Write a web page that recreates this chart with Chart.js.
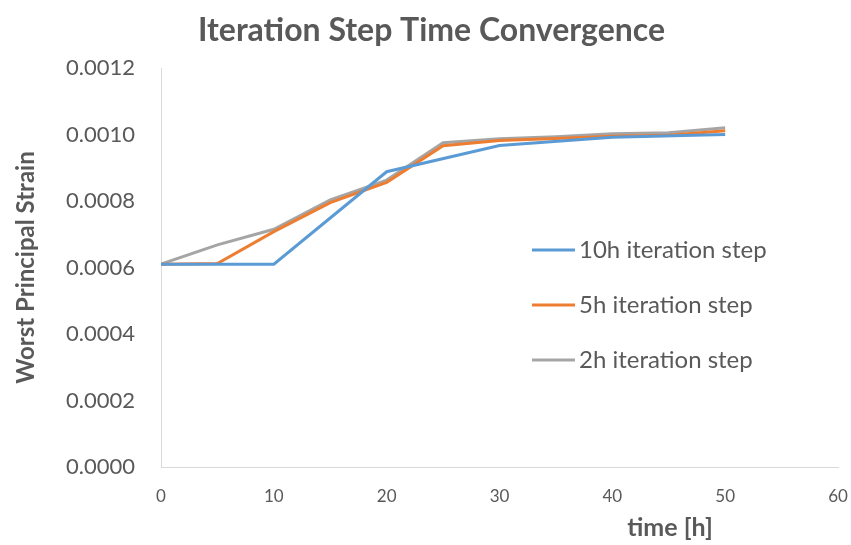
<!DOCTYPE html>
<html>
<head>
<meta charset="utf-8">
<script src="https://cdn.jsdelivr.net/npm/chart.js@4/dist/chart.umd.min.js"></script>
<style>
  html, body { margin: 0; padding: 0; background: #fff; }
  #wrap { width: 851px; height: 545px; }
</style>
</head>
<body>
<div id="wrap"><canvas id="chart" width="851" height="545"></canvas></div>
<script>
// data
const seriesNames = ['10h iteration step', '5h iteration step', '2h iteration step'];
const seriesColors = ['#5B9BD5', '#ED7D31', '#A5A5A5'];

const timeTen = [0, 10, 20, 30, 40, 50];
const strainTen = [0.000610, 0.000610, 0.000888, 0.000967, 0.000992, 0.001000];

const timeFive = [0, 5, 10, 15, 20, 25, 30, 35, 40, 45, 50];
const strainFive = [0.000610, 0.000612, 0.000708, 0.000795, 0.000856, 0.000966, 0.000982, 0.000988, 0.000995, 0.000998, 0.001011];

const timeTwo = [0, 5, 10, 15, 20, 25, 30, 35, 40, 45, 50];
const strainTwo = [0.000610, 0.000668, 0.000715, 0.000803, 0.000863, 0.000975, 0.000987, 0.000993, 0.001002, 0.001005, 0.001020];

const xTicks = [0, 10, 20, 30, 40, 50, 60];
const yTicks = [0, 0.0002, 0.0004, 0.0006, 0.0008, 0.0010, 0.0012];

const textColor = '#595959';
const axisColor = '#D9D9D9';
const FONT = 'Lato, "Open Sans", sans-serif';

function toPoints(xs, ys) {
  return xs.map((x, i) => ({ x: x, y: ys[i] }));
}

// legend drawn inside the plot, right side
const insideLegend = {
  id: 'insideLegend',
  afterDraw(chart) {
    const ctx = chart.ctx;
    const x0 = 532, lineLen = 43, y0 = 250, gap = 55;
    ctx.save();
    ctx.font = '24px ' + FONT;
    ctx.textBaseline = 'middle';
    ctx.textAlign = 'left';
    chart.data.datasets.forEach((ds, i) => {
      const y = y0 + i * gap;
      ctx.strokeStyle = ds.borderColor;
      ctx.lineWidth = 3;
      ctx.beginPath();
      ctx.moveTo(x0, y);
      ctx.lineTo(x0 + lineLen, y);
      ctx.stroke();
      ctx.fillStyle = textColor;
      ctx.fillText(ds.label, x0 + lineLen + 4, y);
    });
    ctx.restore();
  }
};

// x axis title sits off-centre, to the right
const xTitle = {
  id: 'xTitle',
  afterDraw(chart) {
    const ctx = chart.ctx;
    ctx.save();
    ctx.font = 'bold 25px ' + FONT;
    ctx.fillStyle = textColor;
    ctx.textAlign = 'center';
    ctx.textBaseline = 'middle';
    ctx.fillText('time [h]', 670, 528);
    ctx.restore();
  }
};

const ctx = document.getElementById('chart').getContext('2d');
new Chart(ctx, {
  type: 'line',
  data: {
    datasets: [
      { label: seriesNames[0], data: toPoints(timeTen, strainTen) },
      { label: seriesNames[1], data: toPoints(timeFive, strainFive) },
      { label: seriesNames[2], data: toPoints(timeTwo, strainTwo) }
    ].map((ds, i) => Object.assign(ds, {
      borderColor: seriesColors[i],
      backgroundColor: seriesColors[i],
      borderWidth: 3,
      pointRadius: 0,
      tension: 0,
      fill: false
    }))
  },
  options: {
    responsive: false,
    animation: false,
    // left padding nudges the title right, like the original
    layout: { padding: { left: 12, right: 0, top: 0, bottom: 0 } },
    plugins: {
      legend: { display: false },
      tooltip: { enabled: false },
      title: {
        display: true,
        text: 'Iteration Step Time Convergence',
        color: textColor,
        font: { family: FONT, size: 32, weight: 'bold', lineHeight: 1.2 },
        padding: { top: 11, bottom: 18.6 }
      }
    },
    scales: {
      x: {
        type: 'linear',
        min: 0,
        max: 60,
        afterBuildTicks: (s) => { s.ticks = xTicks.map(v => ({ value: v })); },
        afterFit: (s) => { s.height = 78; s.paddingRight = 13; },
        grid: { display: false, drawTicks: false },
        border: { display: true, color: axisColor, width: 1 },
        ticks: { color: textColor, padding: 19, maxRotation: 0, font: { family: FONT, size: 17 } }
      },
      y: {
        min: 0,
        max: 0.0012,
        afterBuildTicks: (s) => { s.ticks = yTicks.map(v => ({ value: v })); },
        afterFit: (s) => { s.width = 149; },
        grid: { display: false, drawTicks: false },
        border: { display: true, color: axisColor, width: 1 },
        ticks: {
          color: textColor,
          padding: 26,
          font: { family: FONT, size: 22 },
          callback: (v) => Number(v).toFixed(4)
        },
        title: {
          display: true,
          text: 'Worst Principal Strain',
          color: textColor,
          font: { family: FONT, size: 24, weight: 'bold', lineHeight: 1.2 },
          padding: { top: 0, bottom: 0 }
        }
      }
    }
  },
  plugins: [insideLegend, xTitle]
});
</script>
</body>
</html>
